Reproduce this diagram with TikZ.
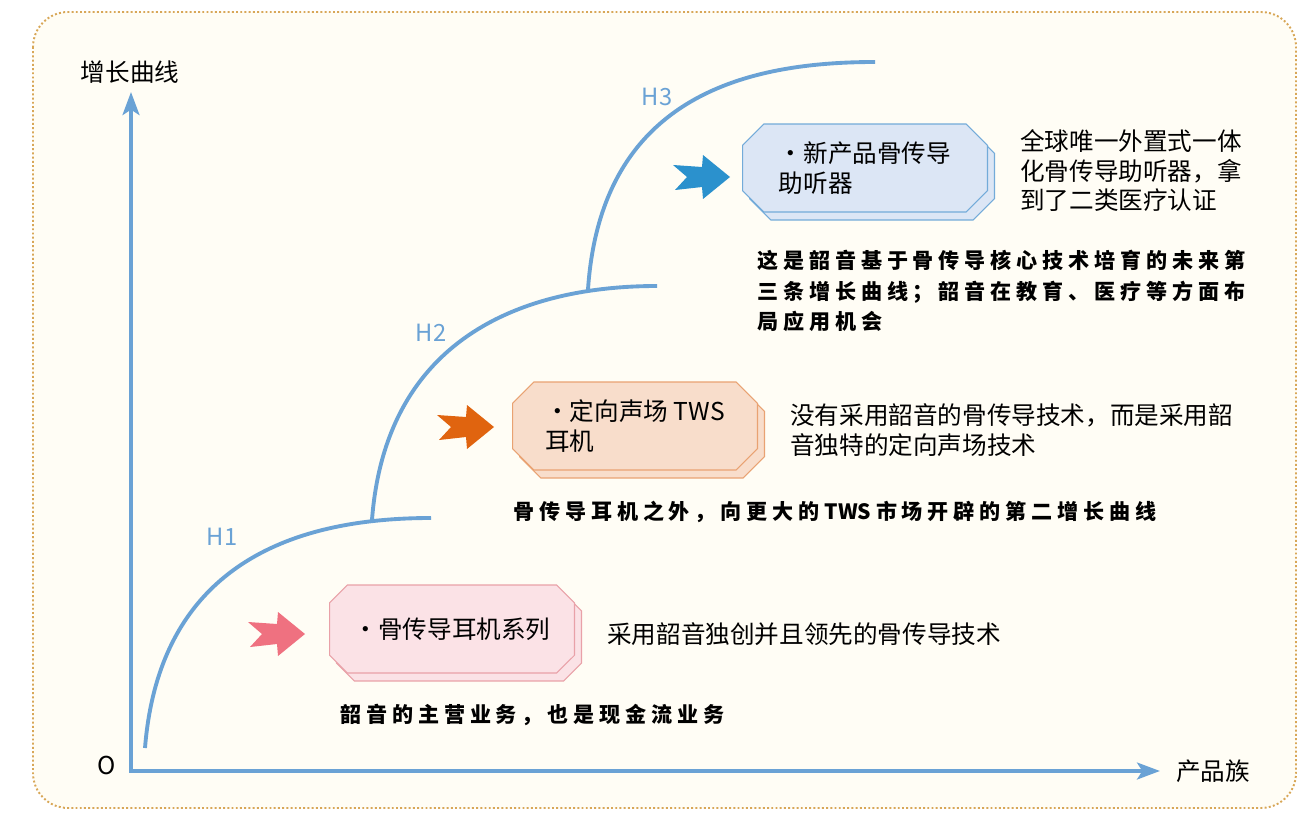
\documentclass[tikz,border=0pt]{standalone}
\usepackage{fontspec}
\setmainfont{Noto Sans CJK SC}
\newfontfamily\notefont{Noto Sans CJK SC}[LetterSpace=23]
\usetikzlibrary{arrows.meta, shapes.misc, shadows}

\definecolor{axisblue}{HTML}{6AA2D5}
\definecolor{framegold}{HTML}{D8A757}
\definecolor{paper}{HTML}{FFFDF5}
\definecolor{pinkfill}{HTML}{FBE2E6}
\definecolor{pinkline}{HTML}{E9A1A8}
\definecolor{pinkarrow}{HTML}{EF7180}
\definecolor{orangefill}{HTML}{F8DDCB}
\definecolor{orangeline}{HTML}{E9A272}
\definecolor{orangearrow}{HTML}{E0640F}
\definecolor{bluefill}{HTML}{DCE6F5}
\definecolor{blueline}{HTML}{73ABD9}
\definecolor{bluearrow}{HTML}{2B91CD}

\newcommand{\tws}{{\addfontfeature{LetterSpace=0}\ TWS\ }}

\tikzset{
    axisarrows/.style={line width=2.8pt, draw=axisblue,
        {Stealth[length=13pt,width=9.5pt,inset=3pt]}-{Stealth[length=13pt,width=9.5pt,inset=3pt]}},
    hcurve/.style={line width=2.2pt, draw=axisblue},
    hlabel/.style={text=axisblue, font=\fontsize{13.5}{16}\selectfont},
    plainlabel/.style={font=\fontsize{14}{17}\selectfont},
    sidelabel/.style={font=\fontsize{14}{16.8}\selectfont, anchor=west, align=left, inner sep=0pt},
    notelabel/.style={font=\notefont\bfseries\fontsize{12}{17.3}\selectfont, anchor=west, align=left, inner sep=0pt},
    prodbox/.style 2 args={chamfered rectangle, chamfered rectangle xsep=0.3cm,
        minimum width=4.9cm, minimum height=1.76cm, inner sep=0pt,
        fill=#1, draw=#2, line width=0.6pt, align=left,
        font=\fontsize{14}{16.8}\selectfont,
        copy shadow={fill=#1, draw=#2, shadow xshift=0.14cm, shadow yshift=-0.16cm}},
    fatarrow/.pic={
        \fill[pic actions] (0,0) -- (-27,-22) -- (-28,-10) -- (-57,-12) -- (-43,0)
            -- (-55,13) -- (-28,10) -- (-27,22) -- cycle;
    }
}

\begin{document}
\begin{tikzpicture}[x=0.02cm, y=-0.02cm]

    % Background and dotted frame
    \useasboundingbox (0,0) rectangle (1316,821);
    \fill[white] (0,0) rectangle (1316,821);
    \draw[framegold, fill=paper, line width=1.1pt, dash pattern=on 1.1pt off 1.3pt,
        rounded corners=0.7cm] (33,12) rectangle (1296,808);

    % Axes
    \coordinate (origin) at (131,771);
    \coordinate (ytop) at (131,92);
    \coordinate (xend) at (1160,771);
    \draw[axisarrows] (ytop) |- (xend);
    \node[plainlabel] (ylabel) at (130,72) {增长曲线};
    \node[plainlabel] (xlabel) at (1213,771) {产品族};
    \node[plainlabel] (olabel) at (107,765) {O};

    % Growth curves H1, H2, H3
    \draw[hcurve] (145,748) .. controls (160,560) and (300,518) .. (431,518)
        coordinate[pos=0.85] (h1join);
    \draw[hcurve] (h1join) .. controls (385,340) and (520,286) .. (657,286)
        coordinate[pos=0.83] (h2join);
    \draw[hcurve] (h2join) .. controls (600,100) and (740,62) .. (875,62);
    \node[hlabel] (h1label) at (222,537) {H1};
    \node[hlabel] (h2label) at (431,333) {H2};
    \node[hlabel] (h3label) at (657,97) {H3};

    % H1: bone conduction earphones
    \pic[fill=pinkarrow] at (305,634) {fatarrow};
    \node[prodbox={pinkfill}{pinkline}] (earbox) at (452,629) {·骨传导耳机系列};
    \node[sidelabel] (eardesc) at (607,634) {采用韶音独创并且领先的骨传导技术};
    \node[notelabel] (earnote) at (340,715) {韶音的主营业务，也是现金流业务};

    % H2: directional sound TWS
    \pic[fill=orangearrow] at (494,427) {fatarrow};
    \node[prodbox={orangefill}{orangeline}] (twsbox) at (635,426) {·定向声场 TWS\\耳机};
    \node[sidelabel] (twsdesc) at (790,430) {没有采用韶音的骨传导技术，而是采用韶\\音独特的定向声场技术};
    \node[notelabel] (twsnote) at (513,512) {骨传导耳机之外，向更大的\tws 市场开辟的第二增长曲线};

    % H3: hearing aid
    \pic[fill=bluearrow] at (730,177) {fatarrow};
    \node[prodbox={bluefill}{blueline}] (aidbox) at (865,168) {·新产品骨传导\\助听器};
    \node[sidelabel] (aiddesc) at (1020,171) {全球唯一外置式一体\\化骨传导助听器，拿\\到了二类医疗认证};
    \node[notelabel] (aidnote) at (757,291) {这是韶音基于骨传导核心技术培育的未来第\\三条增长曲线；韶音在教育、医疗等方面布\\局应用机会};

\end{tikzpicture}
\end{document}
